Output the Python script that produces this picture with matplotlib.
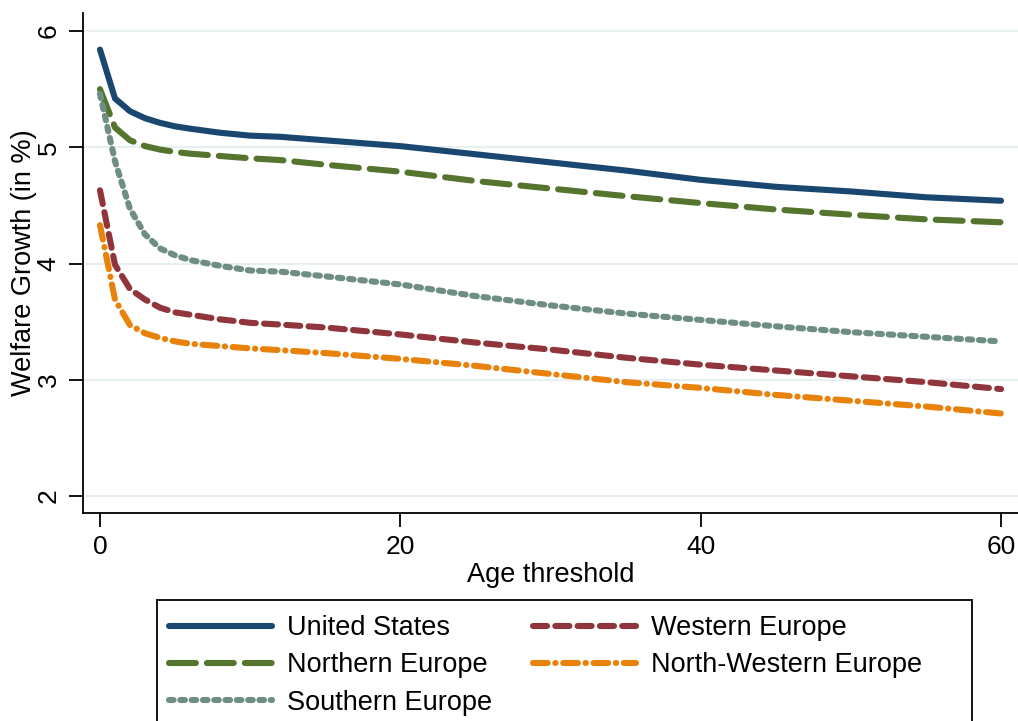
import matplotlib
matplotlib.use("Agg")
import matplotlib.pyplot as plt
from matplotlib.patches import Rectangle

plt.rcParams['font.family'] = ['Liberation Sans', 'DejaVu Sans']

ages = [0, 1, 2, 3, 4, 5, 6, 8, 10, 12, 15, 20, 25, 30, 35, 40, 45, 50, 55, 60]
united_states = [5.84, 5.42, 5.31, 5.25, 5.21, 5.18, 5.16, 5.125, 5.10, 5.09, 5.06, 5.01,
                 4.94, 4.87, 4.80, 4.72, 4.66, 4.62, 4.57, 4.54]
northern_europe = [5.50, 5.17, 5.06, 5.01, 4.98, 4.96, 4.945, 4.925, 4.905, 4.89, 4.85, 4.79,
                   4.71, 4.645, 4.58, 4.52, 4.465, 4.42, 4.38, 4.355]
southern_europe = [5.46, 4.88, 4.47, 4.25, 4.13, 4.07, 4.03, 3.98, 3.94, 3.93, 3.89, 3.82,
                   3.72, 3.64, 3.57, 3.515, 3.46, 3.41, 3.37, 3.33]
western_europe = [4.63, 3.99, 3.78, 3.69, 3.62, 3.58, 3.56, 3.52, 3.49, 3.475, 3.45, 3.39,
                  3.32, 3.26, 3.19, 3.13, 3.08, 3.03, 2.98, 2.92]
north_western_europe = [4.33, 3.69, 3.47, 3.40, 3.36, 3.33, 3.31, 3.29, 3.27, 3.255, 3.23, 3.18,
                        3.12, 3.05, 2.98, 2.93, 2.87, 2.82, 2.77, 2.71]

labels = ["United States", "Northern Europe", "Southern Europe",
          "Western Europe", "North-Western Europe"]
x_ticks = [0, 20, 40, 60]
y_ticks = [2, 3, 4, 5, 6]

colors = ["#1a476f", "#55752f", "#6e8e84", "#90353b", "#e8820a"]
dashes = [None, (4.4, 1.8), (0.75, 1.1), (2.3, 1.35), (2.4, 1.25, 0.05, 1.25)]
series = [united_states, northern_europe, southern_europe, western_europe, north_western_europe]

W, H = 1018, 721
fig = plt.figure(figsize=(W / 100, H / 100), dpi=100)
ax = fig.add_axes([83 / W, 1 - 513 / H, (W - 83) / W, (513 - 13) / H])

lw = 4.4
handles = []
for vals, c, d, lab in zip(series, colors, dashes, labels):
    kw = dict(color=c, lw=lw, solid_capstyle='round', dash_capstyle='round',
              solid_joinstyle='round', dash_joinstyle='round', label=lab, zorder=3)
    if d is None:
        ln, = ax.plot(ages, vals, linestyle='-', **kw)
    else:
        ln, = ax.plot(ages, vals, linestyle=(0, d), **kw)
    handles.append(ln)

ax.set_xlim(-1.13, 61.13)
ax.set_ylim(1.854, 6.155)
ax.set_xticks(x_ticks)
ax.set_yticks(y_ticks)
ax.tick_params(axis='both', direction='out', length=10, width=1.3, labelsize=19,
               colors='black', pad=6)
for t in ax.get_yticklabels():
    t.set_rotation(90)
    t.set_va('center')
ax.grid(axis='y', color='#e8eff1', lw=1.6, zorder=0)
ax.set_axisbelow(True)
for s in ['top', 'right']:
    ax.spines[s].set_visible(False)
for s in ['left', 'bottom']:
    ax.spines[s].set_linewidth(1.3)

ax.set_xlabel("Age threshold", fontsize=19.5, labelpad=2)
ax.set_ylabel("Welfare Growth (in %)", fontsize=19.5, labelpad=0)

# legend box
fig.patches.append(Rectangle((157 / W, -0.05), (972 - 157) / W, (1 - 600 / H) + 0.05,
                             transform=fig.transFigure, fill=False, edgecolor='black',
                             lw=1.3))
common = dict(loc='upper left', frameon=False, fontsize=19.5, handlelength=3.8,
              handletextpad=0.55, labelspacing=0.42, borderpad=0, borderaxespad=0)
leg1 = fig.legend(handles=handles[:3], bbox_to_anchor=(169 / W, 1 - 615 / H), **common)
leg2 = fig.legend(handles=handles[3:], bbox_to_anchor=(533 / W, 1 - 615 / H), **common)

fig.savefig("out.png", dpi=100, facecolor='white')
